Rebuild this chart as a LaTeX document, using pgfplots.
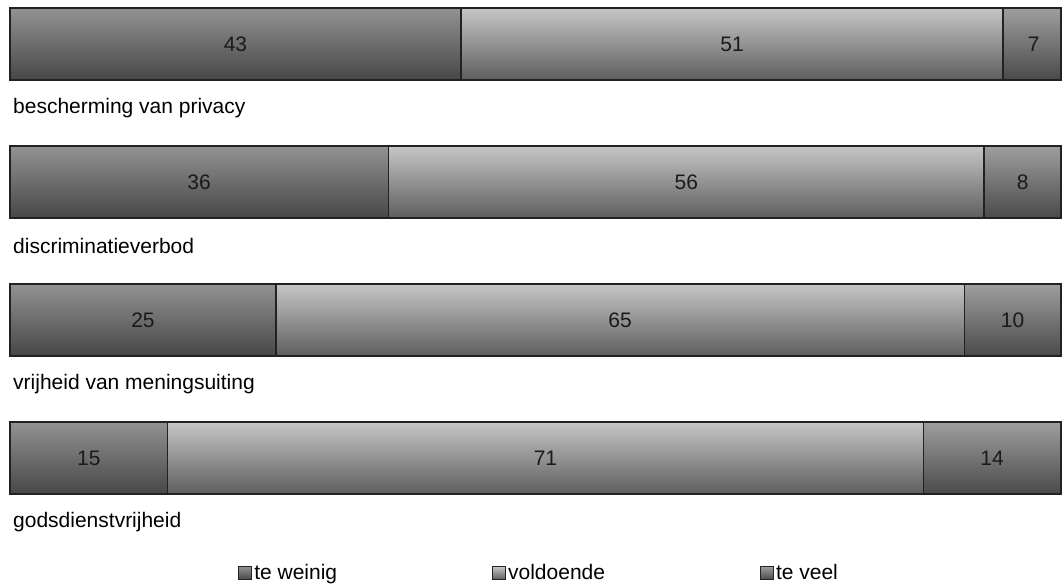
\documentclass[border=0pt]{standalone}
\usepackage{pgfplots}
\pgfplotsset{compat=1.18}
\usepackage{fontspec}
\setmainfont{Liberation Sans}
\definecolor{aTop}{HTML}{929292}
\definecolor{aBot}{HTML}{474747}
\definecolor{bTop}{HTML}{C6C6C6}
\definecolor{bBot}{HTML}{5E5E5E}
\definecolor{cTop}{HTML}{9E9E9E}
\definecolor{cBot}{HTML}{4A4A4A}
\definecolor{edge}{HTML}{222222}
\definecolor{txt}{HTML}{1A1A1A}
\pgfplotsset{
  seg/.style n args={2}{xbar, bar width=72pt, bar shift=0pt, draw=edge,
    line width=1.6pt, top color=#1, bottom color=#2, mark=none, forget plot},
}
\begin{document}
\begin{tikzpicture}[font=\fontsize{21}{25}\selectfont]
\begin{axis}[
  x=10.51pt, y=138pt,
  xmin=0, xmax=100, ymin=0, ymax=4.5,
  hide axis, clip=false,
  legend columns=3,
  legend style={at={(0.217,0.037)}, anchor=west, draw=none, fill=none,
    inner sep=0pt, nodes={inner sep=2pt, text=black},
    /tikz/every even column/.append style={column sep=153pt}},
  legend image code/.code={\draw[#1, line width=1pt] (0pt,-6.5pt) rectangle (13pt,6.5pt);},
]
% cumulative ends of the segments: te veel (total), voldoende, te weinig
\addplot[seg={cTop}{cBot}] coordinates {(100,4)};
\addplot[seg={bTop}{bBot}] coordinates {(94.5,4)};
\addplot[seg={aTop}{aBot}] coordinates {(42.9,4)};
\addplot[seg={cTop}{cBot}] coordinates {(100,3)};
\addplot[seg={bTop}{bBot}] coordinates {(92.7,3)};
\addplot[seg={aTop}{aBot}] coordinates {(36.0,3)};
\addplot[seg={cTop}{cBot}] coordinates {(100,2)};
\addplot[seg={bTop}{bBot}] coordinates {(90.8,2)};
\addplot[seg={aTop}{aBot}] coordinates {(25.3,2)};
\addplot[seg={cTop}{cBot}] coordinates {(100,1)};
\addplot[seg={bTop}{bBot}] coordinates {(86.9,1)};
\addplot[seg={aTop}{aBot}] coordinates {(15.0,1)};

\addlegendimage{draw=edge, top color=aTop, bottom color=aBot}
\addlegendentry{te weinig}
\addlegendimage{draw=edge, top color=bTop, bottom color=bBot}
\addlegendentry{voldoende}
\addlegendimage{draw=edge, top color=cTop, bottom color=cBot}
\addlegendentry{te veel}

\coordinate (v1a) at (axis cs:21.45,4);
\coordinate (v1b) at (axis cs:68.7,4);
\coordinate (v1c) at (axis cs:97.4,4);
\coordinate (v2a) at (axis cs:18.0,3);
\coordinate (v2b) at (axis cs:64.35,3);
\coordinate (v2c) at (axis cs:96.35,3);
\coordinate (v3a) at (axis cs:12.65,2);
\coordinate (v3b) at (axis cs:58.05,2);
\coordinate (v3c) at (axis cs:95.4,2);
\coordinate (v4a) at (axis cs:7.5,1);
\coordinate (v4b) at (axis cs:50.95,1);
\coordinate (v4c) at (axis cs:93.45,1);

\node[anchor=west, inner sep=0pt, xshift=3pt] at (axis cs:0,3.536) {bescherming van privacy};
\node[anchor=west, inner sep=0pt, xshift=3pt] at (axis cs:0,2.536) {discriminatieverbod};
\node[anchor=west, inner sep=0pt, xshift=3pt] at (axis cs:0,1.536) {vrijheid van meningsuiting};
\node[anchor=west, inner sep=0pt, xshift=3pt] at (axis cs:0,0.536) {godsdienstvrijheid};

\coordinate (bl) at (axis cs:-0.951,0.0725);
\coordinate (tr) at (axis cs:100.095,4.319);
\end{axis}
\foreach \n/\t in {v1a/43,v1b/51,v1c/7,v2a/36,v2b/56,v2c/8,v3a/25,v3b/65,v3c/10,v4a/15,v4b/71,v4c/14}
  \node[text=txt] at (\n) {\t};
\pgfresetboundingbox
\path[use as bounding box] (bl) rectangle (tr);
\end{tikzpicture}
\end{document}
